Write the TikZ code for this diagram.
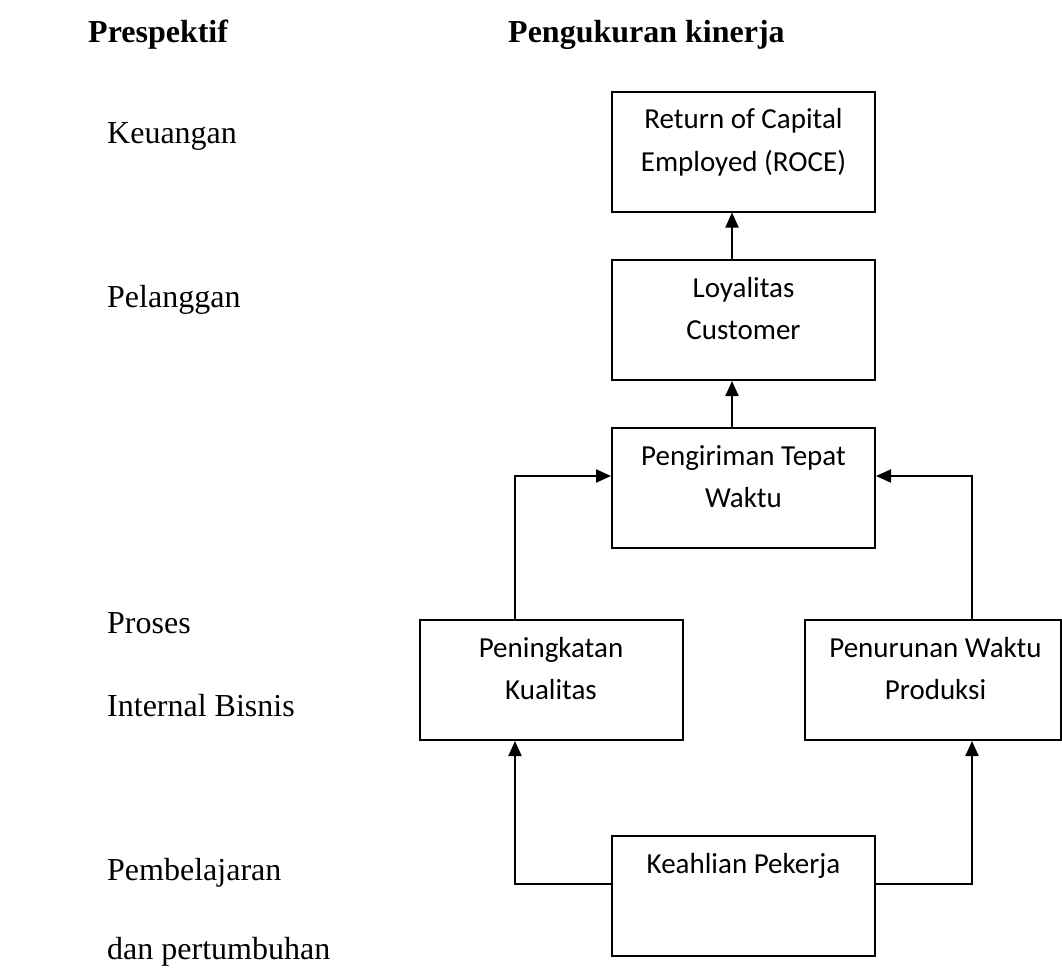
\documentclass[tikz,border=0pt]{standalone}
\usepackage{fontspec}
\setmainfont{Liberation Serif}
\newfontfamily\carlito{Carlito}
\usepackage{tikz}
\usetikzlibrary{arrows.meta}

\tikzset{
  kotak/.style={draw, line width=2pt, minimum width=263pt, minimum height=120pt, inner sep=0pt},
  isikotak/.style={anchor=north, inner sep=0pt, align=center, font=\carlito\fontsize{29}{42.5}\selectfont},
  label kiri/.style={anchor=base west, inner sep=0pt, font=\fontsize{32}{38}\selectfont},
  judul/.style={anchor=base west, inner sep=0pt, font=\bfseries\fontsize{32}{38}\selectfont},
  panah/.style={line width=2pt, -{Triangle[length=15pt, width=13pt]}}
}

\begin{document}
\begin{tikzpicture}[x=1pt, y=-1pt]
\useasboundingbox (0,0) rectangle (1062,969);

\node[judul] (h1) at (88,42) {Prespektif};
\node[judul] (h2) at (508,42) {Pengukuran kinerja};

\node[label kiri] (p1) at (107,143) {Keuangan};
\node[label kiri] (p2) at (107,307) {Pelanggan};
\node[label kiri] (p3) at (107,633) {Proses};
\node[label kiri] (p4) at (107,716) {Internal Bisnis};
\node[label kiri] (p5) at (107,880) {Pembelajaran};
\node[label kiri] (p6) at (107,959) {dan pertumbuhan};

\node[kotak] (roce) at (743.5,151.5) {};
\node[kotak] (loyal) at (743.5,320) {};
\node[kotak] (kirim) at (743.5,488) {};
\node[kotak] (tingkat) at (551,680) {};
\node[kotak, minimum width=256pt] (turun) at (932.5,680) {};
\node[kotak] (ahli) at (743.5,896) {};

\node[isikotak] (t1) at ([yshift=-8.25]roce.north) {\strut Return of Capital\\Employed (ROCE)};
\node[isikotak] (t2) at ([yshift=-8.25]loyal.north) {\strut Loyalitas\\Customer};
\node[isikotak] (t3) at ([yshift=-8.25]kirim.north) {\strut Pengiriman Tepat\\Waktu};
\node[isikotak] (t4) at ([yshift=-8.25]tingkat.north) {\strut Peningkatan\\Kualitas};
\node[isikotak] (t5) at ([xshift=3, yshift=-8.25]turun.north) {\strut Penurunan Waktu\\Produksi};
\node[isikotak] (t6) at ([yshift=-8.25]ahli.north) {\strut Keahlian Pekerja};

\coordinate (kiri) at (515,476);
\coordinate (kanan) at (972,476);

\draw[panah] ([xshift=-11.5]loyal.north) -- ([xshift=-11.5]roce.south);
\draw[panah] ([xshift=-11.5]kirim.north) -- ([xshift=-11.5]loyal.south);
\draw[panah] (tingkat.north -| kiri) -- (kiri) -- (kirim.west |- kiri);
\draw[panah] (turun.north -| kanan) -- (kanan) -- (kirim.east |- kanan);
\draw[panah] ([yshift=12]ahli.west) -| (tingkat.south -| kiri);
\draw[panah] ([yshift=12]ahli.east) -| (turun.south -| kanan);
\end{tikzpicture}
\end{document}
